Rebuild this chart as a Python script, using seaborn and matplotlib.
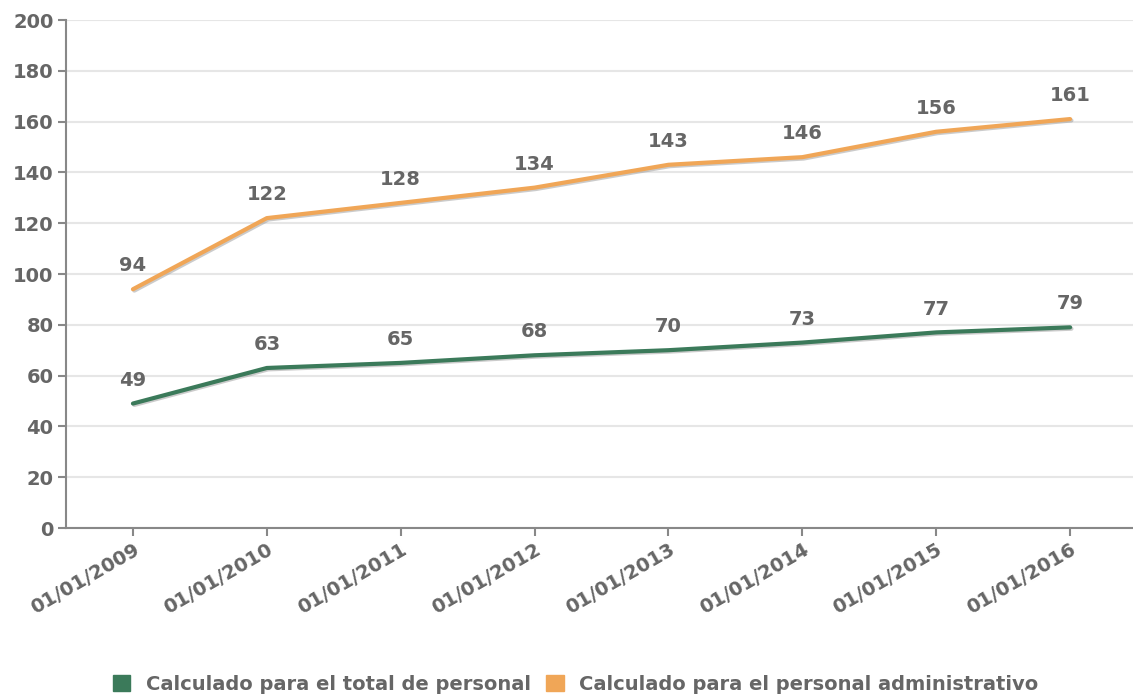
import matplotlib
matplotlib.use("Agg")
import matplotlib.pyplot as plt
import matplotlib.patheffects as pe
from matplotlib.patches import Patch
import pandas as pd
import seaborn as sns

fechas = ["01/01/2009", "01/01/2010", "01/01/2011", "01/01/2012",
          "01/01/2013", "01/01/2014", "01/01/2015", "01/01/2016"]
total_personal = [49, 63, 65, 68, 70, 73, 77, 79]
personal_admin = [94, 122, 128, 134, 143, 146, 156, 161]
series_names = ["Calculado para el total de personal",
                "Calculado para el personal administrativo"]
colores = ["#3b7a5a", "#f0a657"]
y_ticks = list(range(0, 201, 20))

TEXT_COLOR = "#666666"
FS = 14

df = pd.DataFrame({
    "idx": list(range(len(fechas))) * 2,
    "valor": total_personal + personal_admin,
    "serie": [series_names[0]] * len(fechas) + [series_names[1]] * len(fechas),
})

sns.set_style("white")
plt.rcParams["font.family"] = ["DejaVu Sans"]

fig = plt.figure(figsize=(11.33, 6.98), dpi=100)
ax = fig.add_axes([66 / 1133, 170 / 698, 1 - 66 / 1133, 508 / 698])

sns.lineplot(data=df, x="idx", y="valor", hue="serie", palette=colores,
             linewidth=3, ax=ax, legend=False, sort=False)
shadow = [pe.SimpleLineShadow(offset=(1, -1), shadow_color="#999999", alpha=0.5),
          pe.Normal()]
for line in ax.get_lines():
    line.set_path_effects(shadow)

for vals in (total_personal, personal_admin):
    for i, v in enumerate(vals):
        ax.annotate(str(v), (i, v), xytext=(0, 10), textcoords="offset points",
                    ha="center", va="bottom", fontsize=FS, fontweight="bold",
                    color=TEXT_COLOR)

ax.set_xlim(-0.5, len(fechas) - 0.53)
ax.set_ylim(0, 200)
ax.set_yticks(y_ticks)
ax.set_xticks(range(len(fechas)))
ax.set_xticklabels(fechas, rotation=30, ha="right", rotation_mode="anchor")
ax.tick_params(axis="both", colors="#888888", labelcolor=TEXT_COLOR,
               labelsize=FS, length=6, width=1.5, direction="out",
               bottom=True, left=True)
for lab in ax.get_xticklabels() + ax.get_yticklabels():
    lab.set_fontweight("bold")
ax.tick_params(axis="x", pad=3)
ax.tick_params(axis="y", pad=3)
ax.set_xlabel("")
ax.set_ylabel("")
ax.yaxis.grid(True, color="#e6e6e6", linewidth=1.5)
ax.set_axisbelow(True)
for side in ("top", "right"):
    ax.spines[side].set_visible(False)
for side in ("left", "bottom"):
    ax.spines[side].set_color("#888888")
    ax.spines[side].set_linewidth(1.5)

handles = [Patch(facecolor=c, edgecolor=c) for c in colores]
leg = fig.legend(handles, series_names, loc="center", bbox_to_anchor=(0.508, 0.02),
                 ncol=2, frameon=False, handlelength=0.9, handleheight=0.9,
                 columnspacing=0.8, handletextpad=0.8,
                 prop={"size": FS, "weight": "bold"})
for t in leg.get_texts():
    t.set_color(TEXT_COLOR)

fig.savefig("out.png", dpi=100)
